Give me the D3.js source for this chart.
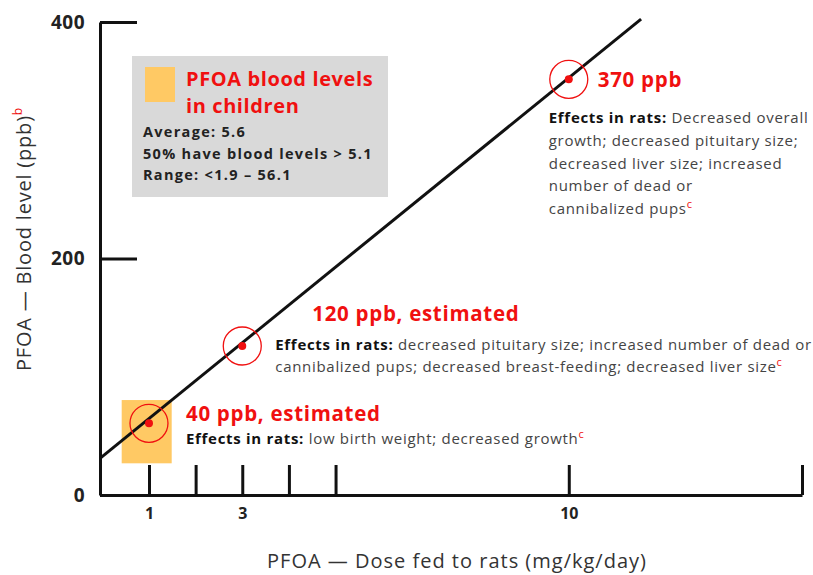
<!DOCTYPE html>
<html>
<head>
<meta charset="utf-8">
<script src="https://cdn.jsdelivr.net/npm/d3@7"></script>
<style>
  body { margin: 0; background: #fff; }
  svg { font-family: "Open Sans", sans-serif; }
  .axis path, .axis line { stroke: #111; stroke-width: 3; }
  .axis text { font-weight: bold; fill: #222; font-family: "Open Sans", sans-serif; }
  .red { fill: #f01010; }
</style>
</head>
<body>
<svg id="chart" width="813" height="575"></svg>
<script>
// dose fed to rats (mg/kg/day) and the rat blood level reached (ppb)
const doses = [1, 3, 10];
const bloodLevels = [60.6, 126, 351.5];
const pointLabels = ["40 ppb, estimated", "120 ppb, estimated", "370 ppb"];
const effectLines = [
  [["Effects in rats: ", "low birth weight; decreased growth"]],
  [["Effects in rats: ", "decreased pituitary size; increased number of dead or"],
   ["", "cannibalized pups; decreased breast-feeding; decreased liver size"]],
  [["Effects in rats: ", "Decreased overall"],
   ["", "growth; decreased pituitary size;"],
   ["", "decreased liver size; increased"],
   ["", "number of dead or"],
   ["", "cannibalized pups"]]
];

// fitted line through the points
const trendDose = [-0.05, 11.55];
const trendLevel = [31, 402.5];

// children blood level band (drawn as the orange square at dose 1)
const bandDose = [0.415, 1.487];
const bandLevel = [26.8, 80.3];

const xTicks = [1, 2, 3, 4, 5, 10, 15];
const xTickLabels = [1, 3, 10];
const yTicks = [0, 200, 400];

const boxTitle = ["PFOA blood levels", "in children"];
const boxLines = ["Average: 5.6", "50% have blood levels > 5.1", "Range: <1.9 \u2013 56.1"];

const red = "#f01010";
const orange = "#ffc964";

const svg = d3.select("#chart");

const x = d3.scaleLinear().domain([-0.05, 15]).range([100, 802]);
const y = d3.scaleLinear().domain([0, 400]).range([495, 22]);

// info box
const box = svg.append("g");
box.append("rect")
  .attr("x", 132).attr("y", 56).attr("width", 256).attr("height", 141)
  .attr("fill", "#d9d9d9");
box.append("rect")
  .attr("x", 145).attr("y", 67).attr("width", 30).attr("height", 35)
  .attr("fill", orange);
box.selectAll(".btitle")
  .data(boxTitle)
  .join("text")
  .attr("class", "btitle red")
  .attr("x", 186)
  .attr("y", (d, i) => 86 + i * 27)
  .style("font-size", "20px")
  .style("font-weight", "bold")
  .style("letter-spacing", "0.6px")
  .text(d => d);
box.selectAll(".bline")
  .data(boxLines)
  .join("text")
  .attr("class", "bline")
  .attr("x", 143)
  .attr("y", (d, i) => 137 + i * 21.5)
  .style("font-size", "14.5px")
  .style("font-weight", "bold")
  .style("letter-spacing", "1.3px")
  .attr("fill", "#222")
  .text(d => d);

// orange band for children
svg.append("rect")
  .attr("x", x(bandDose[0]))
  .attr("y", y(bandLevel[1]))
  .attr("width", x(bandDose[1]) - x(bandDose[0]))
  .attr("height", y(bandLevel[0]) - y(bandLevel[1]))
  .attr("fill", orange);

// axes
const yAxis = d3.axisLeft(y)
  .tickValues(yTicks)
  .tickSize(-37)
  .tickSizeOuter(0)
  .tickPadding(15);
svg.append("g")
  .attr("class", "axis")
  .attr("transform", "translate(100,0)")
  .call(yAxis)
  .attr("font-family", null)
  .attr("font-size", 19)
  .call(g => g.selectAll("text").style("letter-spacing", "0.5px"));

const xAxis = d3.axisBottom(x)
  .tickValues(xTicks)
  .tickSize(-30)
  .tickSizeOuter(0)
  .tickPadding(13)
  .tickFormat(d => xTickLabels.includes(d) ? d : "");
svg.append("g")
  .attr("class", "axis")
  .attr("transform", "translate(0,495)")
  .call(xAxis)
  .attr("font-family", null)
  .attr("font-size", 16);

// axis titles
svg.append("text")
  .attr("x", 457).attr("y", 568)
  .attr("text-anchor", "middle")
  .style("font-size", "20px")
  .style("letter-spacing", "1px")
  .attr("fill", "#333")
  .text("PFOA \u2014 Dose fed to rats (mg/kg/day)");

const yt = svg.append("text")
  .attr("transform", "translate(31,239) rotate(-90)")
  .attr("text-anchor", "middle")
  .style("font-size", "20px")
  .style("letter-spacing", "0.8px")
  .attr("fill", "#333");
yt.append("tspan").text("PFOA \u2014 Blood level (ppb)");
yt.append("tspan").attr("class", "red").attr("dy", -9).style("font-size", "12px").text("b");

// trend line
const line = d3.line().x(d => x(d[0])).y(d => y(d[1]));
svg.append("path")
  .datum(d3.zip(trendDose, trendLevel))
  .attr("d", line)
  .attr("fill", "none")
  .attr("stroke", "#111")
  .attr("stroke-width", 3);

// points
const pts = d3.zip(doses, bloodLevels);
svg.selectAll(".ring")
  .data(pts)
  .join("circle")
  .attr("class", "ring")
  .attr("cx", d => x(d[0]))
  .attr("cy", d => y(d[1]))
  .attr("r", 19)
  .attr("fill", "none")
  .attr("stroke", red)
  .attr("stroke-width", 1.3);
svg.selectAll(".dot")
  .data(pts)
  .join("circle")
  .attr("class", "dot")
  .attr("cx", d => x(d[0]))
  .attr("cy", d => y(d[1]))
  .attr("r", 4)
  .attr("fill", red);

// annotation layout, offsets from each point
const layout = [
  {hx: 37, hy: -2, ex: 37, ey: 21, lh: 22},
  {hx: 70, hy: -25, ex: 33, ey: 4, lh: 22},
  {hx: 29, hy: 8, ex: -20, ey: 44, lh: 22.7}
];

pts.forEach((p, i) => {
  const px = x(p[0]), py = y(p[1]), L = layout[i];
  svg.append("text")
    .attr("class", "red")
    .attr("x", px + L.hx).attr("y", py + L.hy)
    .style("font-size", "20.5px")
    .style("font-weight", "bold")
    .style("letter-spacing", "0.7px")
    .text(pointLabels[i]);
  const lines = effectLines[i];
  lines.forEach((ln, j) => {
    const t = svg.append("text")
      .attr("x", px + L.ex).attr("y", py + L.ey + j * L.lh)
      .style("font-size", "15px")
      .style("letter-spacing", "0.7px")
      .attr("fill", "#444");
    if (ln[0]) t.append("tspan").style("font-weight", "bold").attr("fill", "#111").text(ln[0]);
    t.append("tspan").text(ln[1]);
    if (j === lines.length - 1) {
      t.append("tspan").attr("class", "red").attr("dy", -6).style("font-size", "11px").text("c");
    }
  });
});
</script>
</body>
</html>
